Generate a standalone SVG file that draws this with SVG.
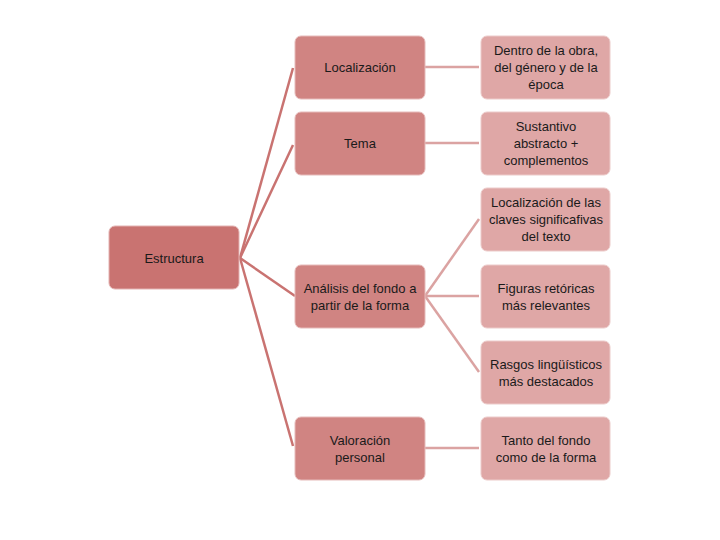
<svg xmlns="http://www.w3.org/2000/svg" width="720" height="540" viewBox="0 0 720 540">
<style>
.n1{fill:#c97371;stroke:#e3b3b2;stroke-width:1}
.n2{fill:#d08482;stroke:#e6bbba;stroke-width:1}
.n3{fill:#dfa7a6;stroke:#eccbca;stroke-width:1}
text{font-family:"Liberation Sans","DejaVu Sans",sans-serif;font-size:13px;fill:#1a1a1a;text-anchor:middle;dominant-baseline:central}
.c1{stroke:#c97371;stroke-width:2.5;fill:none}
.c2{stroke:#dba3a2;stroke-width:2.5;fill:none}
</style>
<rect width="720" height="540" fill="#fff"/>
<g id="connectors">
<line class="c1" x1="240" y1="258" x2="293" y2="68"/>
<line class="c1" x1="240" y1="258" x2="293" y2="145"/>
<line class="c1" x1="240" y1="258" x2="295" y2="296"/>
<line class="c1" x1="240" y1="258" x2="293" y2="446"/>
<line class="c2" x1="425" y1="67" x2="479" y2="67"/>
<line class="c2" x1="425" y1="143" x2="479" y2="143"/>
<line class="c2" x1="425" y1="296" x2="479" y2="219"/>
<line class="c2" x1="425" y1="296" x2="479" y2="296"/>
<line class="c2" x1="425" y1="296" x2="479" y2="372"/>
<line class="c2" x1="425" y1="448" x2="479" y2="448"/>
</g>
<g id="estructura">
<rect class="n1" x="109" y="226" width="130" height="63" rx="6"/>
<text x="174" y="258">Estructura</text>
</g>
<g id="localizacion">
<rect class="n2" x="295" y="36" width="130" height="63" rx="6"/>
<text x="360" y="67">Localización</text>
</g>
<g id="tema">
<rect class="n2" x="295" y="112" width="130" height="63" rx="6"/>
<text x="360" y="143">Tema</text>
</g>
<g id="analisis">
<rect class="n2" x="295" y="265" width="130" height="63" rx="6"/>
<text x="360" y="288">Análisis del fondo a</text>
<text x="360" y="305">partir de la forma</text>
</g>
<g id="valoracion">
<rect class="n2" x="295" y="417" width="130" height="63" rx="6"/>
<text x="360" y="440">Valoración</text>
<text x="360" y="457">personal</text>
</g>
<g id="dentro">
<rect class="n3" x="481" y="36" width="129" height="63" rx="6"/>
<text x="546" y="50">Dentro de la obra,</text>
<text x="546" y="67">del género y de la</text>
<text x="546" y="84">época</text>
</g>
<g id="sustantivo">
<rect class="n3" x="481" y="112" width="129" height="63" rx="6"/>
<text x="546" y="126">Sustantivo</text>
<text x="546" y="143">abstracto +</text>
<text x="546" y="160">complementos</text>
</g>
<g id="claves">
<rect class="n3" x="481" y="188" width="129" height="63" rx="6"/>
<text x="546" y="202">Localización de las</text>
<text x="546" y="219">claves significafivas</text>
<text x="546" y="236">del texto</text>
</g>
<g id="figuras">
<rect class="n3" x="481" y="265" width="129" height="63" rx="6"/>
<text x="546" y="288">Figuras retóricas</text>
<text x="546" y="305">más relevantes</text>
</g>
<g id="rasgos">
<rect class="n3" x="481" y="341" width="129" height="63" rx="6"/>
<text x="546" y="364">Rasgos lingüísticos</text>
<text x="546" y="381">más destacados</text>
</g>
<g id="tanto">
<rect class="n3" x="481" y="417" width="129" height="63" rx="6"/>
<text x="546" y="440">Tanto del fondo</text>
<text x="546" y="457">como de la forma</text>
</g>
</svg>
